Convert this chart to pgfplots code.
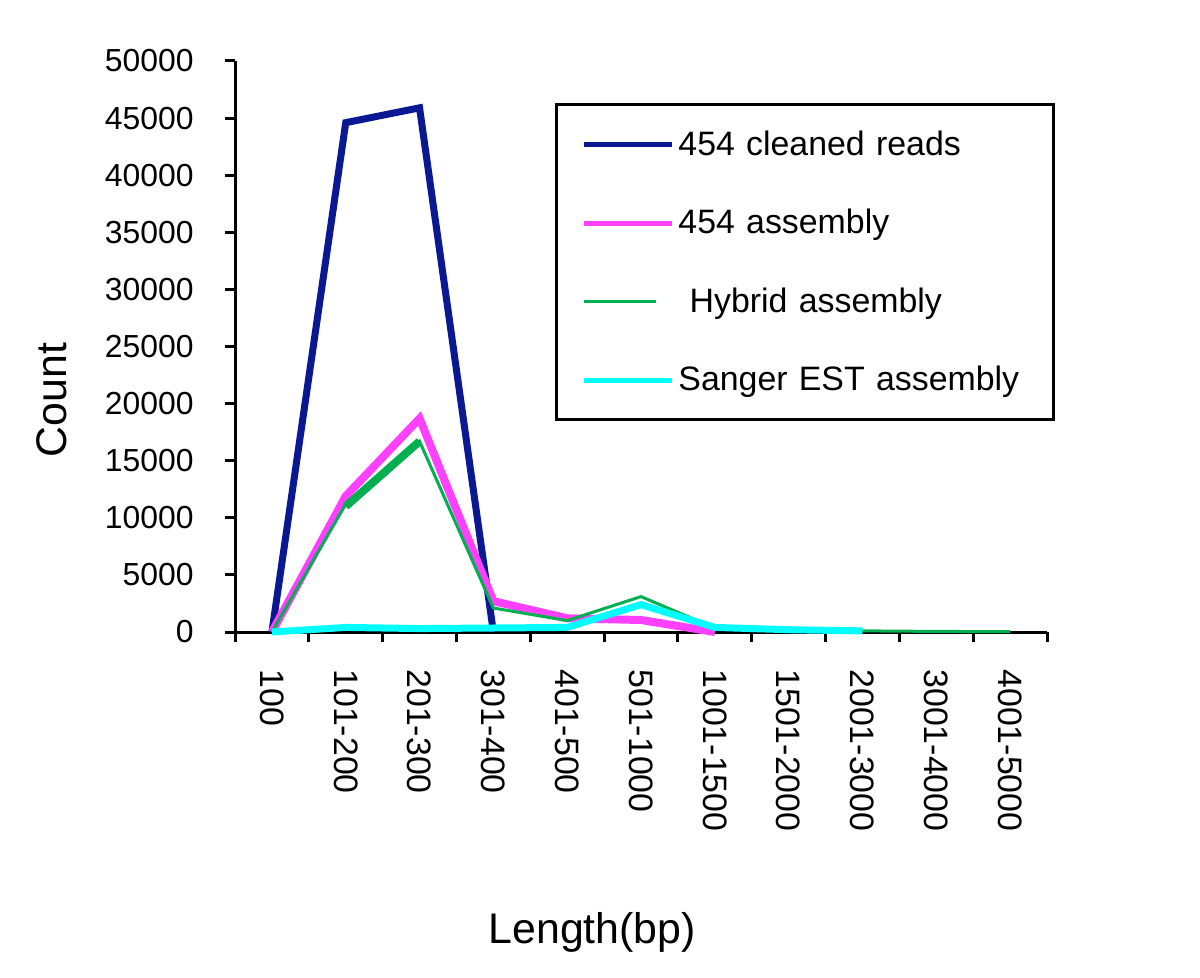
\documentclass[border=0pt]{standalone}
\usepackage{pgfplots}
\pgfplotsset{compat=1.18}
\usepackage{fontspec}
\setmainfont{Liberation Sans}
\definecolor{cblue}{RGB}{10,25,145}
\definecolor{cmag}{RGB}{255,64,255}
\definecolor{cgreen}{RGB}{0,176,80}
\definecolor{ccyan}{RGB}{0,255,255}
\pgfplotsset{
  longleg/.style={legend image code/.code={\draw[##1,line width=2.5bp] (0bp,0bp)--(44bp,0bp);}},
  shortleg/.style={legend image code/.code={\draw[##1,line width=1.8bp] (0bp,0bp)--(36bp,0bp);}},
}
\begin{document}
\begin{tikzpicture}
\begin{axis}[
  at={(117.5bp,173bp)}, anchor=south west,
  scale only axis, width=406bp, height=285.5bp,
  xmin=0, xmax=11, ymin=0, ymax=50000,
  axis x line=bottom, axis y line=left,
  axis line style={-, line width=1.5bp, black},
  every tick/.style={black, line width=1.5bp},
  tick align=outside,
  major tick length=5bp,
  ytick={0,5000,...,50000},
  /pgf/number format/assume math mode=true,
  /pgf/number format/set thousands separator={},
  scaled y ticks=false,
  yticklabel style={font=\fontsize{16}{19}\selectfont, anchor=east, inner sep=0pt, xshift=-15.5bp},
  xtick={0,1,...,11},
  x tick label as interval,
  xticklabels={100,101-200,201-300,301-400,401-500,501-1000,1001-1500,1501-2000,2001-3000,3001-4000,4001-5000},
  xticklabel style={font=\fontsize{17}{20}\selectfont, rotate=-90, anchor=west, inner sep=0pt, xshift=13.5bp},
  ylabel={Count},
  ylabel style={font=\fontsize{21.5}{25}\selectfont, at={(axis description cs:-0.2254,0.406)}, anchor=center},
  xlabel={Length(bp)},
  xlabel style={font=\fontsize{21.5}{25}\selectfont, at={(axis description cs:0.44,-0.5254)}, anchor=center},
  legend cell align=left,
  legend style={at={(rel axis cs:0.394,0.926)}, anchor=north west, draw=black, line width=1.5bp,
    font=\fontsize{17}{20}\selectfont, row sep=21.5bp, inner xsep=12.5bp, inner ysep=11bp,
    text width=173bp},
  clip=false,
]
\addplot[cblue, line width=3.5bp, longleg] coordinates {(0.5,0) (1.5,44600) (2.5,45900) (3.5,0)};
\addlegendentry{454 cleaned reads}
\addplot[cmag, line width=4bp, longleg] coordinates {(0.5,0) (1.5,11900) (2.5,18700) (3.5,2700) (4.5,1200) (5.5,1050) (6.5,0)};
\addlegendentry{454 assembly}
\addplot[cgreen, line width=1.5bp, shortleg] coordinates {(0.5,0) (1.5,11200) (2.5,16700) (3.5,2100) (4.5,1000) (5.5,3100) (6.5,350) (7.5,150) (8.5,100) (9.5,50) (10.5,30)};
\addlegendentry{\ Hybrid assembly}
\addplot[cgreen, line width=4bp, forget plot] coordinates {(1.5,11000) (2.5,16700)};
\addplot[ccyan, line width=3.5bp, longleg] coordinates {(0.5,0) (1.5,400) (2.5,300) (3.5,350) (4.5,400) (5.5,2400) (6.5,400) (7.5,200) (8.5,100)};
\addlegendentry{Sanger EST assembly}
\end{axis}
\pgfresetboundingbox
\path[use as bounding box] (0,0) rectangle (600bp,489bp);
\end{tikzpicture}
\end{document}
